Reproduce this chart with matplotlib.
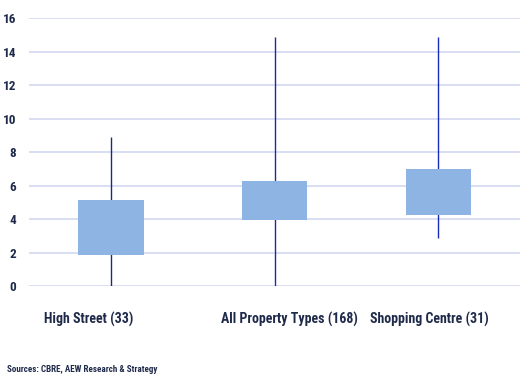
import matplotlib
matplotlib.use("Agg")
import matplotlib.pyplot as plt
import numpy as np

plt.rcParams['font.family'] = ['Roboto Condensed', 'DejaVu Sans Condensed', 'DejaVu Sans']

categories = ['High Street (33)', 'All Property Types (168)', 'Shopping Centre (31)']
whisker_low = [0.0, 0.0, 2.87]
box_low = [1.85, 3.94, 4.24]
box_high = [5.13, 6.27, 6.98]
whisker_high = [8.9, 14.87, 14.87]
yticks = [0, 2, 4, 6, 8, 10, 12, 14, 16]

BOX_COLOR = '#8DB4E2'
WHISKER_COLORS = ['#1B2A80', '#1B2AA8', '#1B2AB8']
GRID_COLOR = '#D3D8F0'
TEXT_COLOR = '#1F2A4A'

fig = plt.figure(figsize=(5.27, 3.85), dpi=100)
ax = fig.add_axes([0.055, 0.257, 0.932, 0.696])

x = np.arange(len(categories))
ax.vlines(x, whisker_low, whisker_high, colors=WHISKER_COLORS, linewidth=1.0, zorder=2)
heights = np.array(box_high) - np.array(box_low)
ax.bar(x, heights, bottom=box_low, width=0.40, color=BOX_COLOR, zorder=3)

ax.set_xlim(-0.5, 2.5)
ax.set_ylim(0, 16)
ax.set_yticks(yticks)
ax.set_yticklabels([str(t) for t in yticks], fontsize=9.5, fontweight='bold', color=TEXT_COLOR)
ax.tick_params(axis='y', length=0, pad=9)
ax.set_xticks([])
ax.grid(axis='y', color=GRID_COLOR, linewidth=1.2, zorder=0)
ax.set_axisbelow(True)
for s in ax.spines.values():
    s.set_visible(False)

# category labels sit a bit off-centre like in the original
label_shift = [-0.135, 0.09, -0.055]
for i, lab in enumerate(categories):
    ax.text(x[i] + label_shift[i], -2.0, lab, ha='center', va='center',
            fontsize=10, fontweight='bold', color=TEXT_COLOR, clip_on=False)

fig.text(0.013, 0.04, 'Sources: CBRE, AEW Research & Strategy', fontsize=6.5,
         fontweight='bold', color=TEXT_COLOR, ha='left', va='center')

fig.savefig('out.png', dpi=100)
